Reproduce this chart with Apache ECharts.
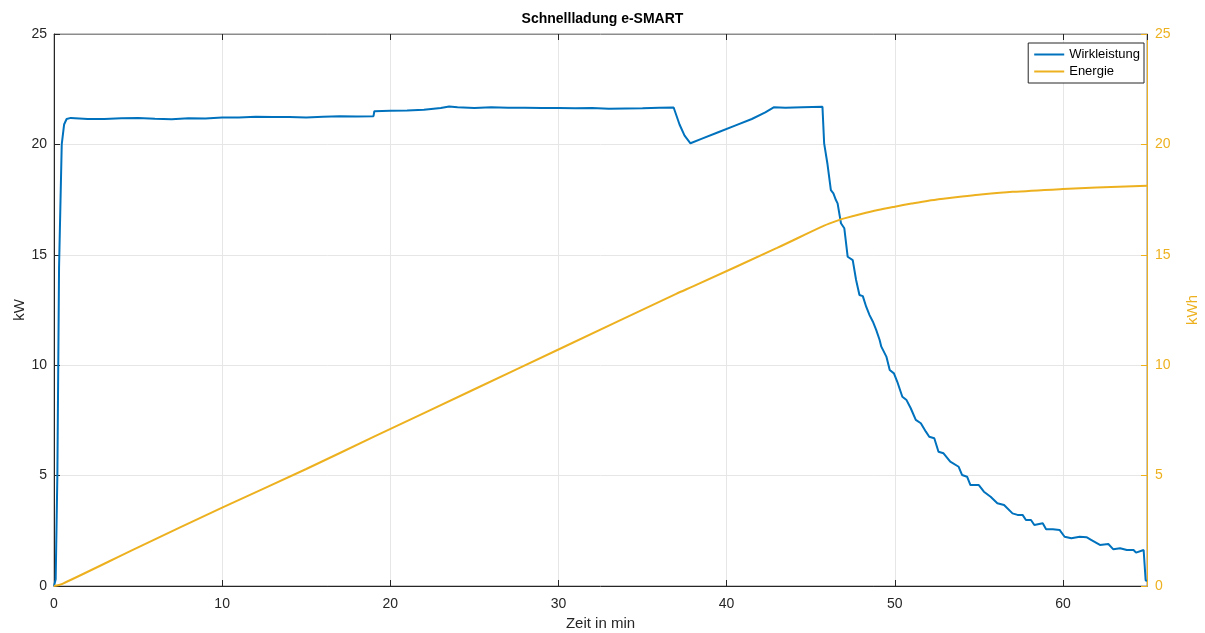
<!DOCTYPE html>
<html><head><meta charset="utf-8">
<script src="https://cdn.jsdelivr.net/npm/echarts@6/dist/echarts.min.js"></script>
<style>html,body{margin:0;padding:0;background:#fff}#c{width:1205px;height:633px}</style>
</head><body><div id="c"></div>
<script>
const title = 'Schnellladung e-SMART';
const xTicks = [0,10,20,30,40,50,60];
const powerTime = [0,0.1,0.2,0.3,0.46,0.6,0.75,1,2,3,4,5,6,7,8,9,10,11,12,13,14,15,16,17,18,19.0,19.05,20,21,22,23,23.5,24,25,26,27,28,29,30,31,32,33,34,35,36,36.85,37.2,37.5,37.85,38.5,39.5,40.5,41.5,42.3,42.8,43.5,44.5,45.7,
  45.8,46.0,46.2,46.35,46.5,46.6,46.8,47.0,47.2,47.5,47.7,47.9,48.1,48.3,48.5,48.7,48.9,49.1,49.2,49.5,49.7,49.95,50.15,50.45,50.7,50.95,51.25,51.55,51.85,52.05,52.35,52.6,52.9,53.3,53.8,54.0,54.3,54.5,55.0,55.3,55.7,56.1,56.5,57.0,57.3,57.6,57.8,58.1,58.3,58.8,59.0,59.4,59.8,60.1,60.5,61.0,61.4,61.7,62.2,62.7,63.0,63.4,63.8,64.2,64.35,64.8,64.9,64.92,65];
const powerValues = [0,0.3,5,14.4,20.0,20.9,21.15,21.2,21.15,21.15,21.18,21.2,21.16,21.14,21.18,21.17,21.22,21.22,21.25,21.24,21.24,21.22,21.25,21.28,21.26,21.28,21.5,21.52,21.53,21.57,21.65,21.72,21.68,21.65,21.68,21.66,21.66,21.65,21.65,21.64,21.65,21.62,21.63,21.64,21.66,21.67,20.9,20.4,20.05,20.25,20.55,20.85,21.15,21.45,21.68,21.66,21.68,21.7,
  20.05,19.1,17.93,17.78,17.48,17.33,16.43,16.2,14.91,14.76,13.86,13.18,13.13,12.65,12.27,11.97,11.59,11.14,10.84,10.39,9.78,9.63,9.25,8.57,8.42,8.05,7.52,7.37,6.99,6.76,6.69,6.08,6.01,5.63,5.40,5.03,4.95,4.57,4.57,4.27,4.04,3.75,3.67,3.29,3.22,3.22,2.99,2.99,2.76,2.84,2.57,2.57,2.54,2.23,2.16,2.23,2.21,2.08,1.86,1.90,1.66,1.71,1.63,1.63,1.51,1.63,1.63,0.25,0.24];
const energyTime = [0,0.5,5,10,15,19,25,30,37,38,43,45.8,46.7,47,48,49,50,51,52,53,54,55,57,60,62,65];
const energyValues = [0,0.1,1.75,3.55,5.3,6.75,8.91,10.71,13.23,13.57,15.31,16.32,16.58,16.65,16.85,17.03,17.18,17.32,17.45,17.55,17.64,17.72,17.85,17.98,18.05,18.13];

const blue = '#0072BD', orange = '#EDB120', axisCol = '#262626';
const font = 'Liberation Sans, Arial, sans-serif';
const pair = (t, v) => t.map((x, i) => [x, v[i]]);

const chart = echarts.init(document.getElementById('c'));
chart.setOption({
  animation: false,
  backgroundColor: '#fff',
  textStyle: {fontFamily: font},
  title: {text: title, left: 'center', top: 7, textStyle: {fontSize: 14, fontWeight: 'bold', color: '#000', fontFamily: font}},
  grid: {left: 54, right: 58, top: 34, bottom: 47, show: true, borderColor: '#8c8c8c', borderWidth: 1, containLabel: false, outerBoundsMode: 'none'},
  legend: {
    orient: 'vertical', right: 61, top: 43, itemWidth: 30, itemHeight: 2, itemGap: 4,
    backgroundColor: '#fff', borderColor: axisCol, borderWidth: 1, padding: [5, 4, 5, 6],
    textStyle: {fontSize: 13, color: '#000', fontFamily: font},
    data: [{name: 'Wirkleistung', icon: 'rect'}, {name: 'Energie', icon: 'rect'}]
  },
  xAxis: [{
    type: 'value', min: 0, max: 65, interval: 10,
    name: 'Zeit in min', nameLocation: 'middle', nameGap: 30,
    nameTextStyle: {fontSize: 15, color: axisCol},
    axisLine: {show: true, onZero: false, lineStyle: {color: axisCol}},
    axisTick: {show: true, inside: true, length: 6, lineStyle: {color: axisCol}},
    axisLabel: {fontSize: 14, color: axisCol, margin: 11, showMaxLabel: false},
    splitLine: {show: true, lineStyle: {color: '#e6e6e6'}}
  }, {
    type: 'value', min: 0, max: 65, interval: 10, position: 'top',
    axisLine: {show: true, onZero: false, lineStyle: {color: '#8c8c8c'}},
    axisTick: {show: true, inside: true, length: 6, lineStyle: {color: axisCol}},
    axisLabel: {show: false}, splitLine: {show: false}
  }],
  yAxis: [{
    type: 'value', min: 0, max: 25, interval: 5, position: 'left',
    name: 'kW', nameLocation: 'middle', nameGap: 27, nameRotate: 90, nameMoveOverlap: false,
    nameTextStyle: {fontSize: 15, color: axisCol},
    axisLine: {show: true, onZero: false, lineStyle: {color: axisCol}},
    axisTick: {show: true, inside: true, length: 6, lineStyle: {color: axisCol}},
    axisLabel: {fontSize: 14, color: axisCol, margin: 7},
    splitLine: {show: true, lineStyle: {color: '#e6e6e6'}}
  }, {
    type: 'value', min: 0, max: 25, interval: 5, position: 'right',
    name: 'kWh', nameLocation: 'middle', nameGap: 38, nameRotate: 90,
    nameTextStyle: {fontSize: 15, color: orange},
    axisLine: {show: true, onZero: false, lineStyle: {color: orange}},
    axisTick: {show: true, inside: true, length: 6, lineStyle: {color: orange}},
    axisLabel: {fontSize: 14, color: orange, margin: 8},
    splitLine: {show: false}
  }],
  series: [{
    name: 'Wirkleistung', type: 'line', xAxisIndex: 0, yAxisIndex: 0,
    data: pair(powerTime, powerValues), showSymbol: false, symbol: 'none',
    lineStyle: {color: blue, width: 2}, itemStyle: {color: blue}
  }, {
    name: 'Energie', type: 'line', xAxisIndex: 0, yAxisIndex: 1,
    data: pair(energyTime, energyValues), showSymbol: false, symbol: 'none', smooth: 0.3,
    lineStyle: {color: orange, width: 2}, itemStyle: {color: orange}
  }]
});
</script></body></html>
